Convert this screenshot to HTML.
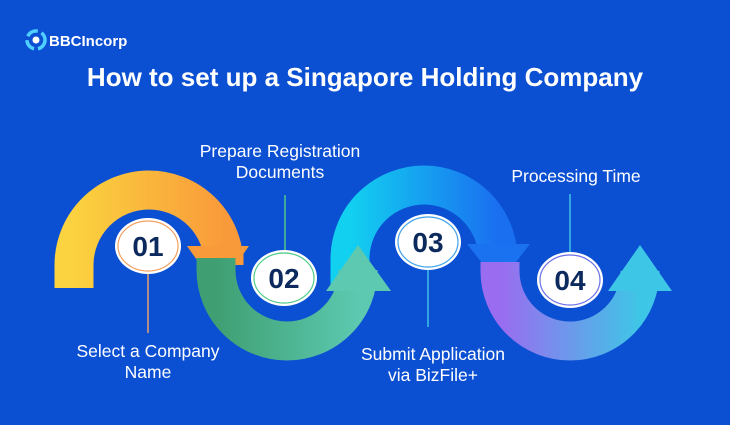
<!DOCTYPE html>
<html><head><style>
html,body{margin:0;padding:0;}
body{width:730px;height:420px;overflow:hidden;background:#0b4fd2;font-family:"Liberation Sans",sans-serif;}
</style></head><body>
<svg width="730" height="420" viewBox="0 0 730 420" xmlns="http://www.w3.org/2000/svg">
<defs>
<linearGradient id="gO" x1="0" y1="0" x2="1" y2="0"><stop offset="0" stop-color="#fbd23f"/><stop offset="1" stop-color="#f99a3a"/></linearGradient>
<linearGradient id="gG" x1="0" y1="0" x2="1" y2="0"><stop offset="0" stop-color="#3f9f72"/><stop offset="1" stop-color="#5cc9b0"/></linearGradient>
<linearGradient id="gB" x1="0" y1="0" x2="1" y2="0"><stop offset="0" stop-color="#12d0f0"/><stop offset="1" stop-color="#1a6ff0"/></linearGradient>
<linearGradient id="gP" x1="0" y1="0" x2="1" y2="0"><stop offset="0" stop-color="#9a6cf0"/><stop offset="1" stop-color="#3ec6e6"/></linearGradient>
</defs>
<rect width="730" height="420" fill="#0b4fd2"/>
<path d="M74 288 L74 265 A75 75 0 0 1 224 265 L224 248" fill="none" stroke="url(#gO)" stroke-width="39"/>
<polygon points="187,246 249,246 218,290" fill="#f99a3a"/>
<path d="M350 290 L350 259 A74 74 0 0 1 498 259 L498 245" fill="none" stroke="url(#gB)" stroke-width="39"/>
<polygon points="467,244 530,244 499,284" fill="#1a72f0"/>
<path d="M216 258 L216 270 A71 71 0 0 0 358 270 L358 288" fill="none" stroke="url(#gG)" stroke-width="39"/>
<polygon points="326,291 391,291 358,245" fill="#5cc9b0"/>
<path d="M500 262 L500 271 A70 70 0 0 0 640 271 L640 288" fill="none" stroke="url(#gP)" stroke-width="39"/>
<polygon points="608,291 672,291 640,245" fill="#3ec6e6"/>
<line x1="148" y1="272" x2="148" y2="333" stroke="#e8a070" stroke-width="1.5"/>
<line x1="285" y1="195" x2="285" y2="252" stroke="#4fc98a" stroke-width="1.5"/>
<line x1="428" y1="268" x2="428" y2="327" stroke="#3fc0e8" stroke-width="1.5"/>
<line x1="570" y1="194" x2="570" y2="254" stroke="#3fc0e8" stroke-width="1.5"/>
<g font-family="Liberation Sans, sans-serif" font-weight="bold" font-size="28" fill="#0d2a5e" text-anchor="middle">
<ellipse cx="148" cy="246" rx="33" ry="28" fill="#fff"/><ellipse cx="148" cy="246" rx="30" ry="25" fill="none" stroke="#f4a060" stroke-width="1.2"/>
<text x="148" y="256">01</text>
<ellipse cx="284" cy="278" rx="33" ry="28" fill="#fff"/><ellipse cx="284" cy="278" rx="30" ry="25" fill="none" stroke="#4fc98a" stroke-width="1.2"/>
<text x="284" y="288">02</text>
<ellipse cx="428" cy="242" rx="33" ry="28" fill="#fff"/><ellipse cx="428" cy="242" rx="30" ry="25" fill="none" stroke="#3fa0e8" stroke-width="1.2"/>
<text x="428" y="252">03</text>
<ellipse cx="570" cy="280" rx="33" ry="28" fill="#fff"/><ellipse cx="570" cy="280" rx="30" ry="25" fill="none" stroke="#6a70e8" stroke-width="1.2"/>
<text x="570" y="290">04</text>
</g>
<g font-family="Liberation Sans, sans-serif" font-size="17.5" fill="#fff" text-anchor="middle">
<text x="280" y="157">Prepare Registration</text>
<text x="280" y="178">Documents</text>
<text x="576" y="182">Processing Time</text>
<text x="148" y="357">Select a Company</text>
<text x="148" y="378">Name</text>
<text x="433" y="360">Submit Application</text>
<text x="433" y="381">via BizFile+</text>
</g>
<text x="365" y="86" font-family="Liberation Sans, sans-serif" font-weight="bold" font-size="26" fill="#fff" text-anchor="middle">How to set up a Singapore Holding Company</text>
<circle cx="36" cy="40" r="9" fill="none" stroke="#4fd0ff" stroke-width="3.5" stroke-dasharray="12 4"/>
<circle cx="36" cy="40" r="3.5" fill="#fff"/>
<text x="49" y="46" font-family="Liberation Sans, sans-serif" font-weight="bold" font-size="15" fill="#fff">BBCIncorp</text>
</svg>
</body></html>
